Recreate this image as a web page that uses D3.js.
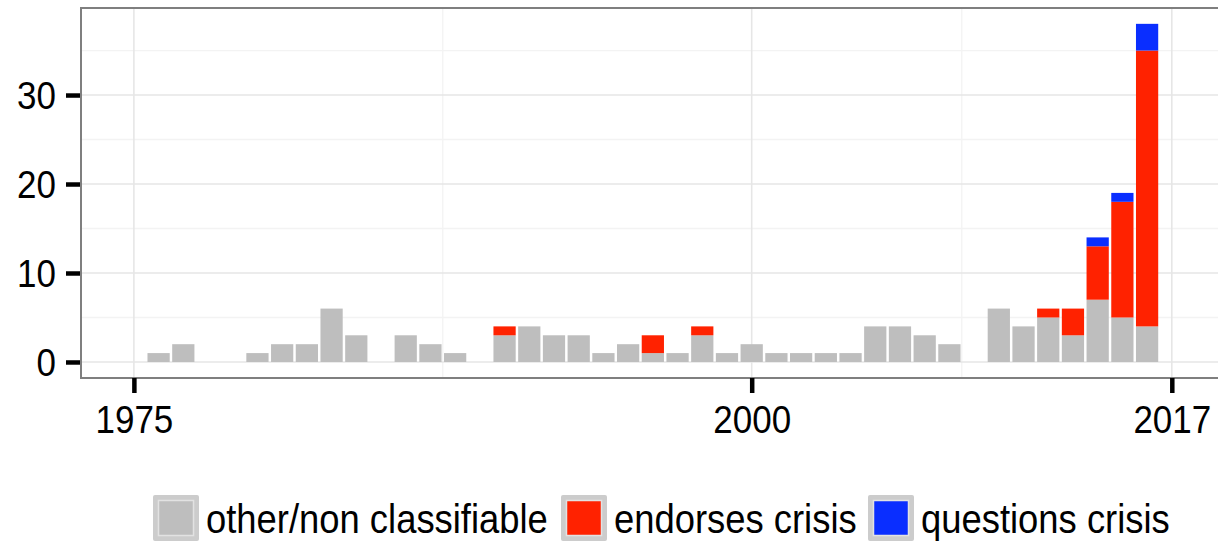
<!DOCTYPE html>
<html>
<head>
<meta charset="utf-8">
<script src="https://cdn.jsdelivr.net/npm/d3@7"></script>
<style>
  html, body { margin: 0; padding: 0; background: #ffffff; }
  svg { display: block; }
  text { font-family: "Liberation Sans", Arial, Helvetica, sans-serif; fill: #000; }
</style>
</head>
<body>
<svg id="chart" width="1218" height="542"></svg>
<script>
// ---- data ----
const years      = [1975,1976,1977,1978,1979,1980,1981,1982,1983,1984,1985,1986,1987,1988,1989,1990,1991,1992,1993,1994,1995,1996,1997,1998,1999,2000,2001,2002,2003,2004,2005,2006,2007,2008,2009,2010,2011,2012,2013,2014,2015,2016];
const otherVals  = [0,1,2,0,0,1,2,2,6,3,0,3,2,1,0,3,4,3,3,1,2,1,1,3,1,2,1,1,1,1,4,4,3,2,0,6,4,5,3,7,5,4];
const endorseVals= [0,0,0,0,0,0,0,0,0,0,0,0,0,0,0,1,0,0,0,0,0,2,0,1,0,0,0,0,0,0,0,0,0,0,0,0,0,1,3,6,13,31];
const questVals  = [0,0,0,0,0,0,0,0,0,0,0,0,0,0,0,0,0,0,0,0,0,0,0,0,0,0,0,0,0,0,0,0,0,0,0,0,0,0,0,1,1,3];
const seriesKeys  = ["other", "endorses", "questions"];
const seriesNames = ["other/non classifiable", "endorses crisis", "questions crisis"];
const seriesColors= ["#bebebe", "#ff2200", "#0a2eff"];
const xTicks = [1975, 2000, 2017];
const xMinor = [1987.5, 2008.5];
const yTicks = [0, 10, 20, 30];
const yMinor = [5, 15, 25, 35];

const rows = years.map((y, i) => ({year: y, other: otherVals[i], endorses: endorseVals[i], questions: questVals[i]}));
const stacked = d3.stack().keys(seriesKeys)(rows);

const svg = d3.select("#chart");
const P = {left: 81, right: 1241, top: 8, bottom: 378};

const x = d3.scaleLinear().domain([1972.86, 2019.8]).range([P.left, P.right]);
const y = d3.scaleLinear().domain([-1.8, 39.78]).range([P.bottom, P.top]);
const barW = x(1.9) - x(1);

svg.append("clipPath").attr("id", "pclip")
  .append("rect").attr("x", P.left).attr("y", P.top).attr("width", P.right - P.left).attr("height", P.bottom - P.top);

const panel = svg.append("g").attr("clip-path", "url(#pclip)");
panel.append("rect").attr("x", P.left).attr("y", P.top).attr("width", P.right - P.left).attr("height", P.bottom - P.top).attr("fill", "#fff");

// minor grid
panel.selectAll(".ymin").data(yMinor).join("line")
  .attr("x1", P.left).attr("x2", P.right).attr("y1", d => y(d)).attr("y2", d => y(d))
  .attr("stroke", "#f3f3f3").attr("stroke-width", 1.3);
panel.selectAll(".xmin").data(xMinor).join("line")
  .attr("y1", P.top).attr("y2", P.bottom).attr("x1", d => x(d)).attr("x2", d => x(d))
  .attr("stroke", "#f3f3f3").attr("stroke-width", 1.3);
// major grid
panel.selectAll(".ymaj").data(yTicks).join("line")
  .attr("x1", P.left).attr("x2", P.right).attr("y1", d => y(d)).attr("y2", d => y(d))
  .attr("stroke", "#e6e6e6").attr("stroke-width", 1.6);
panel.selectAll(".xmaj").data(xTicks).join("line")
  .attr("y1", P.top).attr("y2", P.bottom).attr("x1", d => x(d)).attr("x2", d => x(d))
  .attr("stroke", "#e6e6e6").attr("stroke-width", 1.6);

// bars
stacked.forEach((layer, li) => {
  panel.append("g").selectAll("rect").data(layer.filter(d => d[1] > d[0])).join("rect")
    .attr("x", d => x(d.data.year) - barW / 2)
    .attr("width", barW)
    .attr("y", d => y(d[1]))
    .attr("height", d => y(d[0]) - y(d[1]))
    .attr("fill", seriesColors[li]);
});

// panel border
svg.append("rect").attr("x", P.left).attr("y", P.top).attr("width", P.right - P.left).attr("height", P.bottom - P.top)
  .attr("fill", "none").attr("stroke", "#7f7f7f").attr("stroke-width", 2);

const SY = 1.1; // vertical stretch of text seen in the reference

// y axis
const yAxis = d3.axisLeft(y).tickValues(yTicks).tickSize(14).tickPadding(10).tickFormat(d3.format("d"));
const gy = svg.append("g").attr("transform", `translate(${P.left - 1},0)`).call(yAxis);
gy.select(".domain").remove();
gy.selectAll(".tick line").attr("stroke", "#000").attr("stroke-width", 4.5);
gy.selectAll(".tick text").each(function() {
  const t = d3.select(this);
  const tx = +t.attr("x");
  t.attr("dy", null).attr("y", 0)
   .attr("transform", `translate(0,${13.5}) scale(1,${SY})`)
   .style("font-size", "35px");
});

// x axis
const xAxis = d3.axisBottom(x).tickValues(xTicks).tickSize(15).tickPadding(8).tickFormat(d3.format("d"));
const gx = svg.append("g").attr("transform", `translate(0,${P.bottom})`).call(xAxis);
gx.select(".domain").remove();
gx.selectAll(".tick line").attr("stroke", "#000").attr("stroke-width", 4.5);
gx.selectAll(".tick text").each(function() {
  const t = d3.select(this);
  t.attr("dy", null).attr("y", 0)
   .attr("transform", `translate(0,${433 - P.bottom}) scale(1,${SY})`)
   .style("font-size", "35px");
});

// legend
const lg = svg.append("g");
const legendX = [153, 561, 868];
const keyOuter = 46, keyTop = 495;
seriesNames.forEach((name, i) => {
  const lx = legendX[i];
  lg.append("rect").attr("x", lx).attr("y", keyTop).attr("width", keyOuter).attr("height", keyOuter)
    .attr("fill", "#cccccc").attr("rx", 2);
  lg.append("rect").attr("x", lx + 5.5).attr("y", keyTop + 5.5).attr("width", keyOuter - 11).attr("height", keyOuter - 11)
    .attr("fill", seriesColors[i]).attr("stroke", "#e2e2e2").attr("stroke-width", 1.5);
  lg.append("text")
    .attr("transform", `translate(${lx + keyOuter + 7},533) scale(1,${SY})`)
    .style("font-size", "36.4px").text(name);
});
</script>
</body>
</html>
